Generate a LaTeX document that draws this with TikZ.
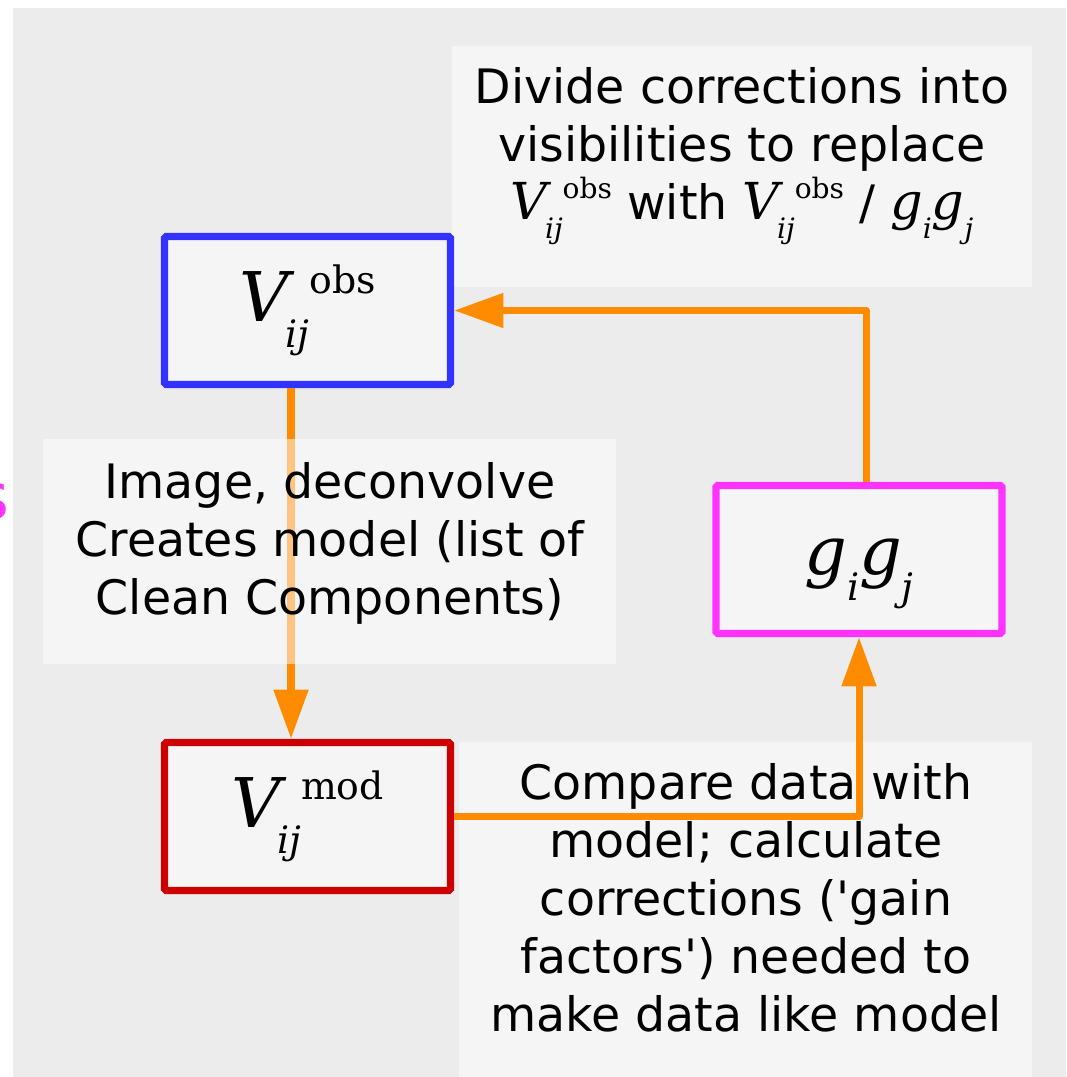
\documentclass[tikz,border=0pt]{standalone}
\usepackage{fontspec}
\setmainfont{DejaVu Sans}
\newfontfamily\symserif{DejaVu Serif}
\usetikzlibrary{arrows.meta}

\definecolor{bggray}{HTML}{ECECEC}
\definecolor{flowor}{HTML}{FF8C00}
\definecolor{obsblue}{HTML}{3333FF}
\definecolor{gainpink}{HTML}{FF33FF}
\definecolor{modred}{HTML}{CC0000}
\definecolor{boxfill}{HTML}{F5F5F5}

% V_ij with a label on top: size, small size, label
\newcommand{\Vsym}[3]{{\symserif\fontsize{#1}{#1}\selectfont\itshape
  V\kern-0.05em\raisebox{-0.38em}{\fontsize{#2}{#2}\selectfont ij}%
  \raisebox{0.4em}{\upshape\fontsize{#2}{#2}\selectfont #3}}}
% g_i g_j: size, small size
\newcommand{\gsym}[2]{{\symserif\fontsize{#1}{#1}\selectfont\itshape
  g\raisebox{-0.38em}{\fontsize{#2}{#2}\selectfont i}%
  g\raisebox{-0.38em}{\fontsize{#2}{#2}\selectfont j}}}

\begin{document}
\begin{tikzpicture}[x=0.02cm,y=-0.02cm,
  stagebox/.style={draw,line width=4.2pt,rounded corners=1pt,fill=boxfill,
    minimum width=5.72cm,minimum height=2.96cm,inner sep=0pt},
  notebg/.style={fill=white,fill opacity=0.5},
  notetext/.style={font=\fontsize{27pt}{33pt}\selectfont,align=center,inner sep=0pt},
  flow/.style={draw=flowor,line width=4pt,line join=round,
    -{Triangle[length=28pt,width=19pt]}}]

  % Background
  \useasboundingbox (0,0) rectangle (1066,1077);
  \fill[bggray] (13,8) rectangle (1066,1077);
  \node[text=gainpink,font=\fontsize{37pt}{37pt}\selectfont,
    anchor=base east,inner sep=0pt] (cut) at (10,519) {s};

  % Note panels
  \fill[notebg] (452,46) rectangle (1032,287);
  \fill[notebg] (459,742) rectangle (1032,1077);

  % Stages
  \node[stagebox,draw=obsblue] (vobs) at (307.5,310.5) {\Vsym{39pt}{21.5pt}{obs}};
  \node[stagebox,draw=modred] (vmod) at (307.5,816.5) {\Vsym{39pt}{21.5pt}{mod}};
  \node[stagebox,draw=gainpink,text height=17.6pt,text depth=0pt]
    (gain) at (859,559.5) {\gsym{38pt}{21.5pt}};

  % Loop
  \draw[flow] ([xshift=-0.33cm]vobs.south) -- ([xshift=-0.33cm]vmod.north);
  \fill[notebg] (43,439) rectangle (616,664);
  \draw[flow] (vmod.east) -| (gain.south);
  \draw[flow] ([xshift=0.14cm]gain.north) |- (vobs.east);

  % Notes
  \node[notetext] (divide) at (742,156)
    {Divide corrections into\\visibilities to replace\\
     \Vsym{29pt}{16pt}{obs} with \Vsym{29pt}{16pt}{obs} / \gsym{29pt}{16pt}};
  \node[notetext] (image) at (330,543)
    {Image, deconvolve\\Creates model (list of\\Clean Components)};
  \node[notetext] (compare) at (746,898)
    {Compare data with\\model; calculate\\corrections (\textquotesingle gain\\
     factors\textquotesingle) needed to\\make data like model};

\end{tikzpicture}
\end{document}
